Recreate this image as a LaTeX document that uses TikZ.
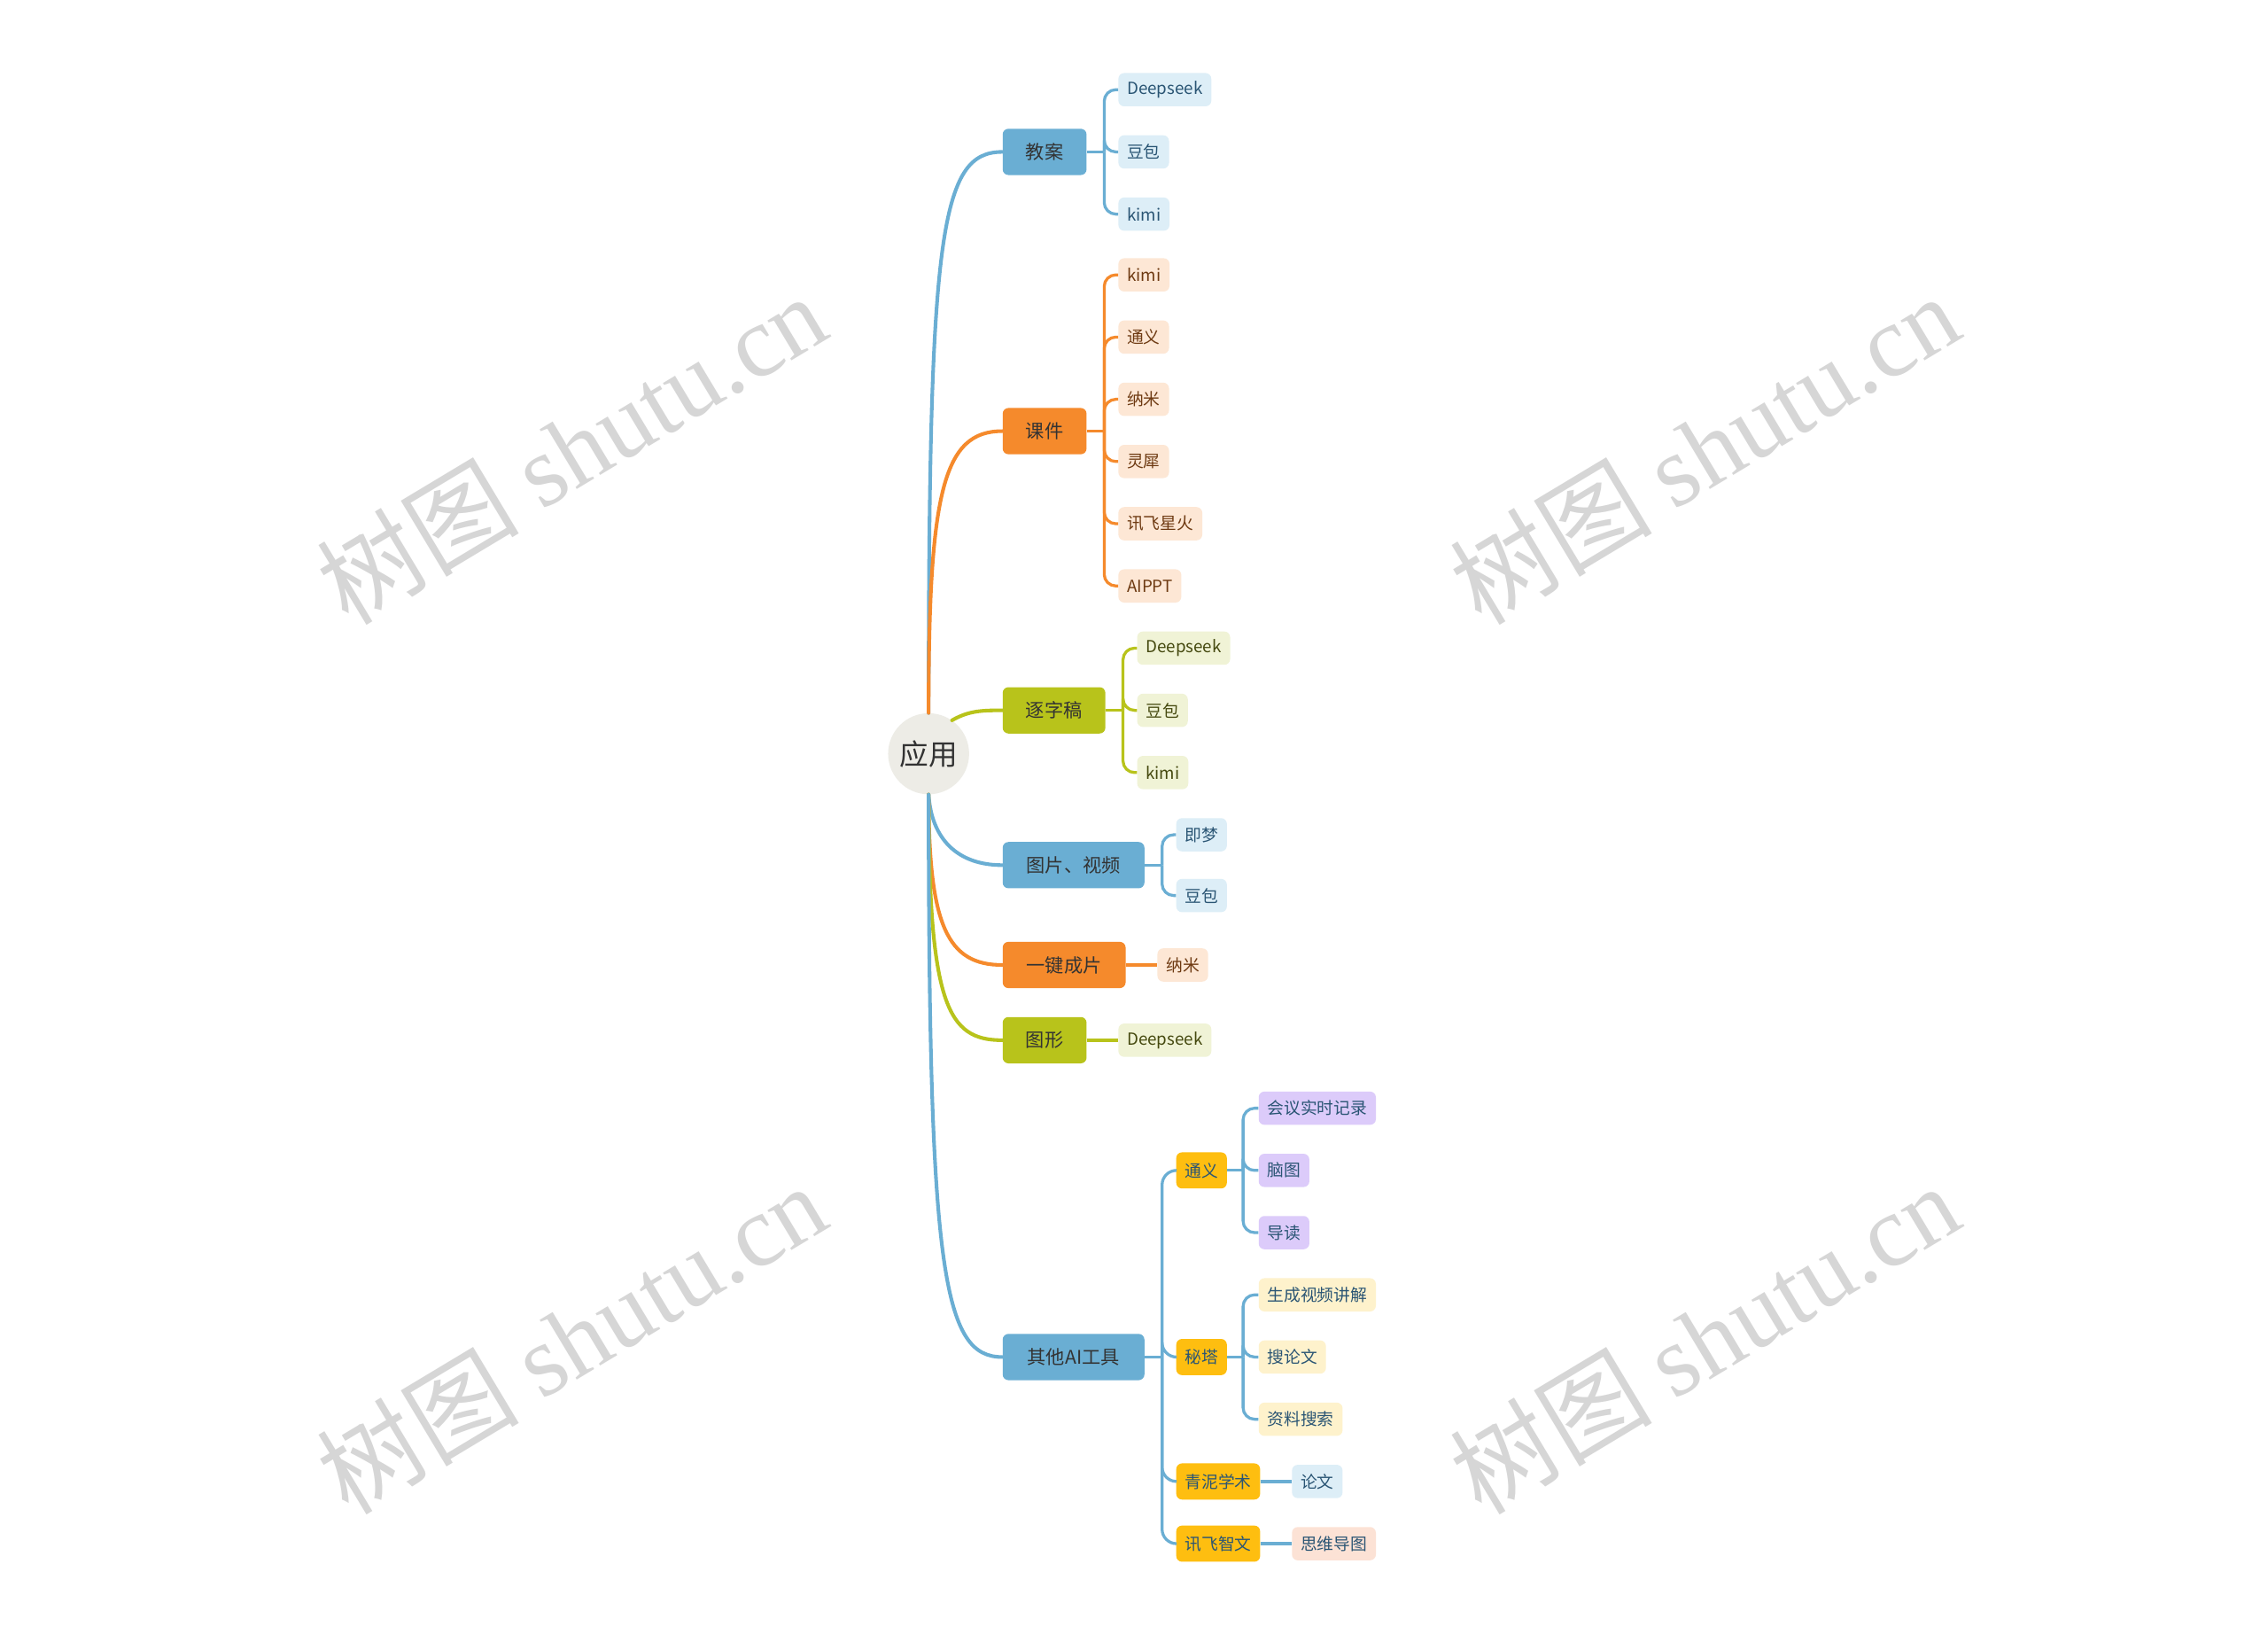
\documentclass[tikz,border=0pt]{standalone}
\usepackage{fontspec}
\setmainfont{Noto Sans CJK SC}
\newfontfamily\wmfont{Liberation Serif}
\usetikzlibrary{positioning}

\definecolor{rootfill}{HTML}{EDECE6}
\definecolor{blueA}{HTML}{6AAED3}
\definecolor{blueL}{HTML}{DDEEF7}
\definecolor{blueT}{HTML}{2A5574}
\definecolor{orangeA}{HTML}{F58A2C}
\definecolor{orangeL}{HTML}{FDE7D5}
\definecolor{orangeT}{HTML}{6E3A12}
\definecolor{oliveA}{HTML}{B8C31B}
\definecolor{oliveL}{HTML}{F0F3D6}
\definecolor{oliveT}{HTML}{45490F}
\definecolor{goldA}{HTML}{FEBE10}
\definecolor{purpleL}{HTML}{DCCBFA}
\definecolor{creamL}{HTML}{FEF2CC}
\definecolor{peachL}{HTML}{FCE2D5}
\definecolor{wmgray}{HTML}{D6D6D6}

\tikzset{
  root/.style={circle, fill=rootfill, minimum size=56pt, inner sep=0pt, text=black!80, font=\fontsize{20}{24}\selectfont},
  topic/.style={rounded corners=4pt, minimum height=32pt, minimum width=#1, inner xsep=4pt, anchor=west, text=black!80, font=\fontsize{13}{15}\selectfont},
  leaf/.style={rounded corners=4pt, minimum height=23pt, inner xsep=6pt, anchor=west, font=\fontsize{11.5}{13}\selectfont},
  sub/.style={leaf, fill=goldA, minimum height=25pt, text=blueT},
  conn/.style={line width=2.5pt, line cap=round},
  twig/.style={line width=2pt, rounded corners=8pt},
  wm/.style={text=wmgray, font=\fontsize{70}{78}\selectfont, rotate=31}
}

\begin{document}
\begin{tikzpicture}[x=1pt, y=-1pt]
  \fill[white] (0,0) rectangle (1568,1129);
  \useasboundingbox (0,0) rectangle (1568,1129);

  % Wasserzeichen
  \node[wm] (wm1) at (395,310) {树图 {\wmfont shutu.cn}};
  \node[wm] (wm2) at (1178,310) {树图 {\wmfont shutu.cn}};
  \node[wm] (wm3) at (395,925) {树图 {\wmfont shutu.cn}};
  \node[wm] (wm4) at (1178,925) {树图 {\wmfont shutu.cn}};

  % Zentrum und Hauptzweige
  \node[root] (app) at (642,521) {应用};
  \node[topic=58pt, fill=blueA] (jiaoan) at (693,105) {教案};
  \node[topic=58pt, fill=orangeA] (kejian) at (693,298) {课件};
  \node[topic=71pt, fill=oliveA] (zhuzigao) at (693,491) {逐字稿};
  \node[topic=98pt, fill=blueA] (tupian) at (693,598) {图片、视频};
  \node[topic=85pt, fill=orangeA] (yijian) at (693,667) {一键成片};
  \node[topic=58pt, fill=oliveA] (tuxing) at (693,719) {图形};
  \node[topic=98pt, fill=blueA] (qita) at (693,938) {其他AI工具};

  \draw[conn, blueA] (app.north) .. controls (642,160) and (650,105) .. (jiaoan.west);
  \draw[conn, orangeA] (app.north) .. controls (642,340) and (652,298) .. (kejian.west);
  \draw[conn, oliveA] (app.55) .. controls (670,491) and (680,491) .. (zhuzigao.west);
  \draw[conn, blueA] (app.south) .. controls (644,580) and (662,598) .. (tupian.west);
  \draw[conn, orangeA] (app.south) .. controls (642,640) and (655,667) .. (yijian.west);
  \draw[conn, oliveA] (app.south) .. controls (642,695) and (655,719) .. (tuxing.west);
  \draw[conn, blueA] (app.south) .. controls (642,880) and (652,938) .. (qita.west);

  % 教案
  \node[leaf, fill=blueL, text=blueT] (j1) at (773,62) {Deepseek};
  \node[leaf, fill=blueL, text=blueT] (j2) at (773,105) {豆包};
  \node[leaf, fill=blueL, text=blueT] (j3) at (773,148) {kimi};
  \coordinate (jt) at ([xshift=12pt]jiaoan.east);
  \draw[twig, blueA] (jiaoan.east) -- (jt);
  \foreach \n in {j1,j2,j3} \draw[twig, blueA] (jt) |- (\n.west);

  % 课件
  \node[leaf, fill=orangeL, text=orangeT] (k1) at (773,190) {kimi};
  \node[leaf, fill=orangeL, text=orangeT] (k2) at (773,233) {通义};
  \node[leaf, fill=orangeL, text=orangeT] (k3) at (773,276) {纳米};
  \node[leaf, fill=orangeL, text=orangeT] (k4) at (773,319) {灵犀};
  \node[leaf, fill=orangeL, text=orangeT] (k5) at (773,362) {讯飞星火};
  \node[leaf, fill=orangeL, text=orangeT] (k6) at (773,405) {AIPPT};
  \coordinate (kt) at ([xshift=12pt]kejian.east);
  \draw[twig, orangeA] (kejian.east) -- (kt);
  \foreach \n in {k1,k2,k3,k4,k5,k6} \draw[twig, orangeA] (kt) |- (\n.west);

  % 逐字稿
  \node[leaf, fill=oliveL, text=oliveT] (z1) at (786,448) {Deepseek};
  \node[leaf, fill=oliveL, text=oliveT] (z2) at (786,491) {豆包};
  \node[leaf, fill=oliveL, text=oliveT] (z3) at (786,534) {kimi};
  \coordinate (zt) at ([xshift=12pt]zhuzigao.east);
  \draw[twig, oliveA] (zhuzigao.east) -- (zt);
  \foreach \n in {z1,z2,z3} \draw[twig, oliveA] (zt) |- (\n.west);

  % 图片、视频
  \node[leaf, fill=blueL, text=blueT] (t1) at (813,577) {即梦};
  \node[leaf, fill=blueL, text=blueT] (t2) at (813,619) {豆包};
  \coordinate (tt) at ([xshift=12pt]tupian.east);
  \draw[twig, blueA] (tupian.east) -- (tt);
  \foreach \n in {t1,t2} \draw[twig, blueA] (tt) |- (\n.west);

  % 一键成片, 图形
  \node[leaf, fill=orangeL, text=orangeT] (y1) at (800,667) {纳米};
  \draw[twig, orangeA, line width=2.5pt] (yijian.east) -- (y1.west);
  \node[leaf, fill=oliveL, text=oliveT] (x1) at (773,719) {Deepseek};
  \draw[twig, oliveA, line width=2.5pt] (tuxing.east) -- (x1.west);

  % 其他AI工具
  \node[sub] (tongyi) at (813,809) {通义};
  \node[sub] (mita) at (813,938) {秘塔};
  \node[sub] (qingni) at (813,1024) {青泥学术};
  \node[sub] (xunfei) at (813,1067) {讯飞智文};
  \coordinate (qt) at ([xshift=12pt]qita.east);
  \draw[twig, blueA] (qita.east) -- (qt);
  \foreach \n in {tongyi,mita,qingni,xunfei} \draw[twig, blueA, rounded corners=10pt] (qt) |- (\n.west);

  \node[leaf, fill=purpleL, text=blueT] (ty1) at (870,766) {会议实时记录};
  \node[leaf, fill=purpleL, text=blueT] (ty2) at (870,809) {脑图};
  \node[leaf, fill=purpleL, text=blueT] (ty3) at (870,852) {导读};
  \coordinate (tyt) at ([xshift=11pt]tongyi.east);
  \draw[twig, blueA] (tongyi.east) -- (tyt);
  \foreach \n in {ty1,ty2,ty3} \draw[twig, blueA] (tyt) |- (\n.west);

  \node[leaf, fill=creamL, text=blueT] (mt1) at (870,895) {生成视频讲解};
  \node[leaf, fill=creamL, text=blueT] (mt2) at (870,938) {搜论文};
  \node[leaf, fill=creamL, text=blueT] (mt3) at (870,981) {资料搜索};
  \coordinate (mtt) at ([xshift=11pt]mita.east);
  \draw[twig, blueA] (mita.east) -- (mtt);
  \foreach \n in {mt1,mt2,mt3} \draw[twig, blueA] (mtt) |- (\n.west);

  \node[leaf, fill=blueL, text=blueT] (qn1) at (893,1024) {论文};
  \draw[twig, blueA, line width=2.5pt] (qingni.east) -- (qn1.west);
  \node[leaf, fill=peachL, text=blueT] (xf1) at (893,1067) {思维导图};
  \draw[twig, blueA, line width=2.5pt] (xunfei.east) -- (xf1.west);
\end{tikzpicture}
\end{document}
